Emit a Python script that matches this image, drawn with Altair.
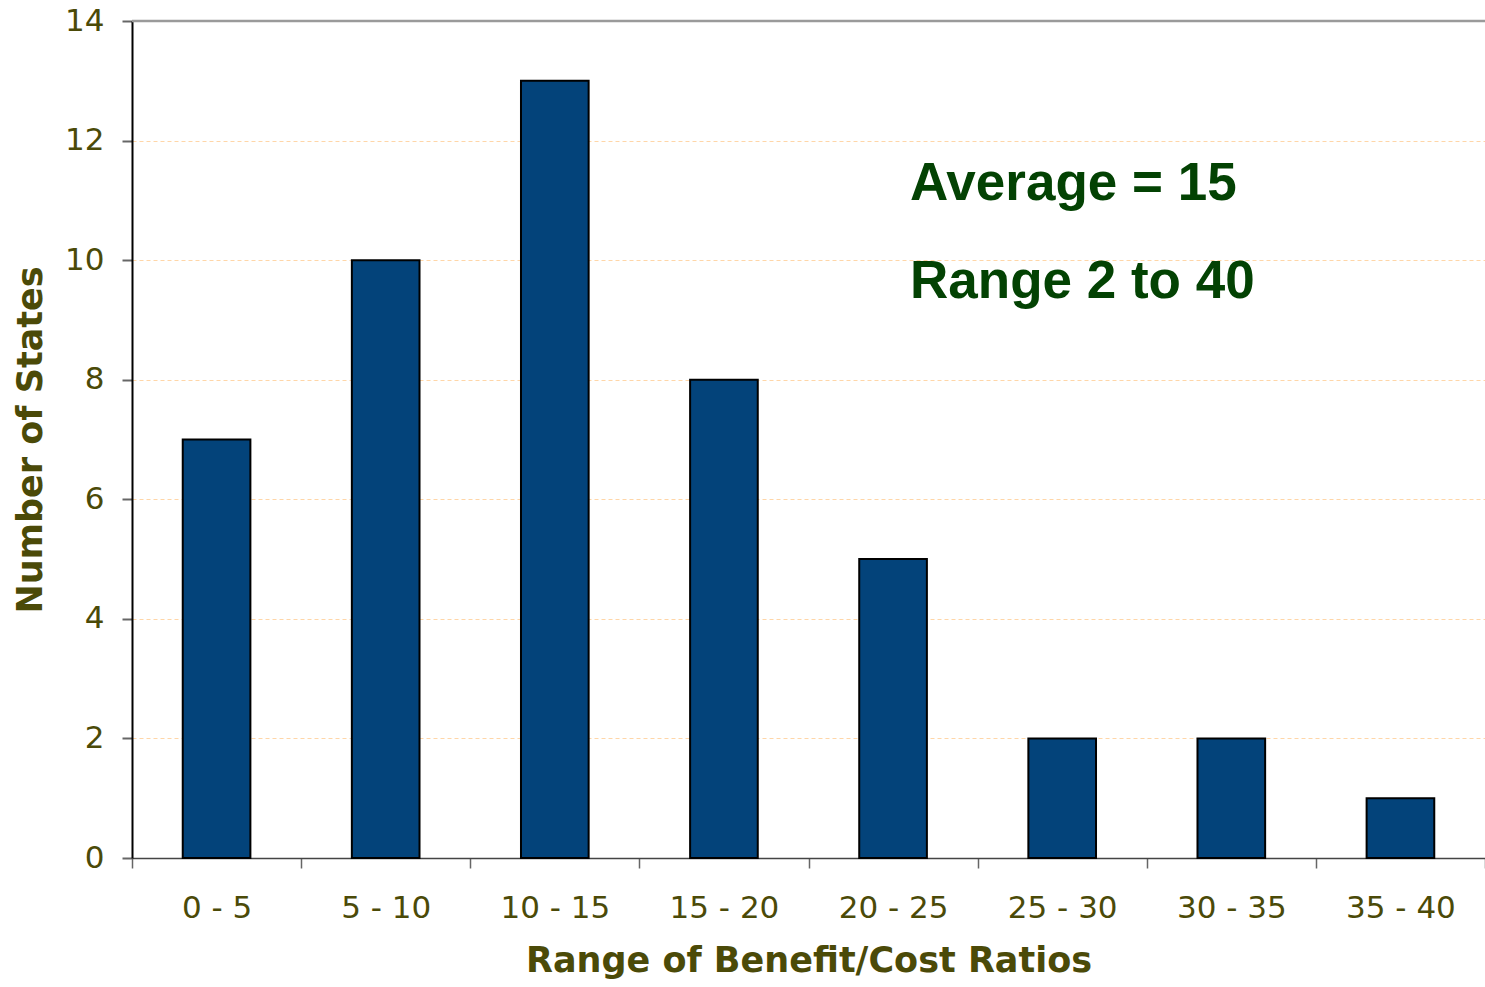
import altair as alt
import pandas as pd

categories = ["0 - 5", "5 - 10", "10 - 15", "15 - 20", "20 - 25", "25 - 30", "30 - 35", "35 - 40"]
counts = [7, 10, 13, 8, 5, 2, 2, 1]

note_texts = ["Average = 15", "Range 2 to 40"]
note_cat = ["20 - 25", "20 - 25"]
note_y = [11.0, 9.37]

bars_df = pd.DataFrame({"cat": categories, "n": counts})
notes_df = pd.DataFrame({"cat": note_cat, "y": note_y, "t": note_texts})
top_df = pd.DataFrame({"y": [14]})

OLIVE = "#4b4a08"

xenc = alt.X("cat:N", sort=categories,
             scale=alt.Scale(paddingInner=0, paddingOuter=0),
             axis=alt.Axis(title="Range of Benefit/Cost Ratios", labelAngle=0,
                           tickBand="extent", grid=False,
                           domainColor="#444", domainWidth=1.5,
                           tickColor="#666", tickSize=10, tickWidth=1.5,
                           labelPadding=25, labelFontSize=31, labelFont="DejaVu Sans",
                           labelColor=OLIVE,
                           titleFont="DejaVu Sans", titleFontSize=35, titleFontWeight="bold",
                           titleColor=OLIVE, titlePadding=20))

yscale = alt.Scale(domain=[0, 14], nice=False)

bars = alt.Chart(bars_df).mark_bar(
    color="#03437a", stroke="black", strokeWidth=2,
    width=alt.RelativeBandSize(0.4)
).encode(
    x=xenc,
    y=alt.Y("n:Q", scale=yscale,
            axis=alt.Axis(title="Number of States", values=list(range(0, 15, 2)), format="d",
                          grid=True, gridColor="#ffd6a8", gridDash=[4, 3], gridWidth=1,
                          domainColor="black", domainWidth=2,
                          tickColor="#666", tickSize=10, tickWidth=2,
                          labelPadding=18, labelFontSize=31, labelFont="DejaVu Sans",
                          labelColor=OLIVE,
                          titleFont="DejaVu Sans", titleFontSize=35, titleFontWeight="bold",
                          titleColor=OLIVE, titlePadding=16)),
)

top = alt.Chart(top_df).mark_rule(color="#9a9a9a", strokeWidth=2.5).encode(
    y=alt.Y("y:Q", scale=yscale)
)

notes = alt.Chart(notes_df).mark_text(
    align="left", baseline="alphabetic", dx=17,
    font="Liberation Sans", fontWeight="bold", fontSize=53, color="#034203"
).encode(
    x=alt.X("cat:N", sort=categories),
    y=alt.Y("y:Q", scale=yscale),
    text="t:N",
)

chart = alt.layer(bars, top, notes).properties(
    width=1353, height=837,
    padding={"left": 132, "top": 21, "right": 0, "bottom": 129},
    autosize=alt.AutoSizeParams(type="none"),
).configure_view(stroke=None).configure(background="white")

chart.save("out.html", embed_options={"renderer": "svg", "actions": False})
